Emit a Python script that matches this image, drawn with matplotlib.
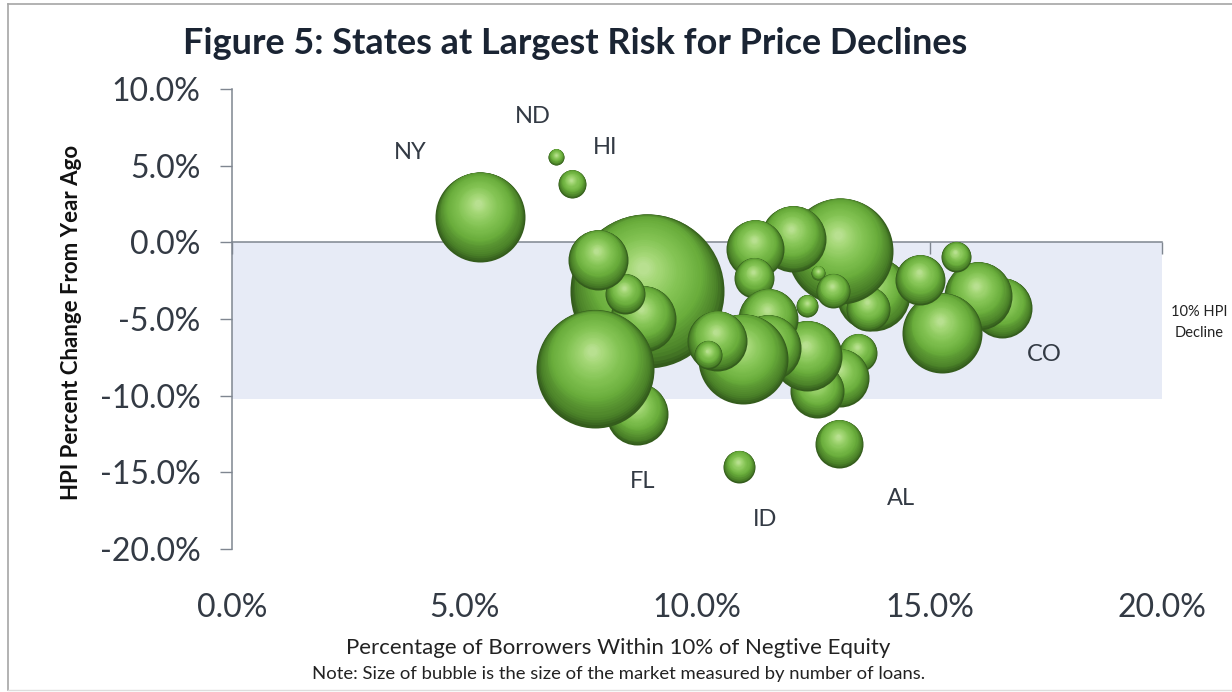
import matplotlib
matplotlib.use('Agg')
from matplotlib import pyplot as plt
from matplotlib.colors import LinearSegmentedColormap
from matplotlib.lines import Line2D
from matplotlib.transforms import offset_copy
import numpy as np

plt.rcParams['font.family'] = ['Lato', 'DejaVu Sans']

# bubbles, listed back to front
borrowers_pct = [5.33, 6.97, 7.31,
                 13.78, 13.68, 13.08, 12.60, 12.92, 12.06, 11.25, 11.23,
                 13.46, 13.08, 12.58, 12.37, 12.37, 11.53, 11.53, 10.99,
                 8.92, 10.43, 10.24, 8.84, 8.45, 7.87, 8.71, 7.81,
                 13.05, 10.90,
                 16.56, 16.04, 15.27, 14.80, 15.57]
hpi_change_pct = [1.66, 5.57, 3.81,
                  -3.36, -4.33, -0.55, -1.99, -3.16, 0.23, -0.42, -2.31,
                  -7.20, -8.83, -9.67, -7.39, -4.14, -4.98, -6.87, -7.59,
                  -3.16, -6.42, -7.33, -4.98, -3.36, -1.14, -11.17, -8.24,
                  -13.13, -14.63,
                  -4.27, -3.49, -5.90, -2.44, -0.94]
market_size = [2025, 64, 196,
               1369, 484, 2809, 49, 289, 1089, 841, 400,
               361, 841, 729, 1225, 121, 900, 1089, 2025,
               5929, 900, 196, 1089, 400, 900, 961, 3481,
               576, 256,
               900, 1156, 1600, 625, 225]

state_names = ['NY', 'ND', 'HI', 'CO', 'FL', 'ID', 'AL']
state_x = [3.83, 6.47, 8.02, 17.46, 8.84, 11.46, 14.39]
state_y = [5.83, 8.18, 6.16, -7.33, -15.6, -18.08, -16.71]

x_ticks = [0, 5, 10, 15, 20]
y_ticks = [-20, -15, -10, -5, 0, 5, 10]
band_bottom = -10.2

W, H = 1232, 692
fig = plt.figure(figsize=(W / 100, H / 100), dpi=100)
ax = fig.add_axes([232 / W, 1 - 549 / H, 930 / W, 460 / H])
ax.set_xlim(0, 20)
ax.set_ylim(-20, 10)
ax.patch.set_alpha(0)

ax.fill_between([0, 20], band_bottom, 0, color='#e7ebf6', lw=0, zorder=1)

# axes lines: x axis sits on zero, its labels stay at the bottom
for side in ['top', 'right']:
    ax.spines[side].set_visible(False)
ax.spines['bottom'].set_position('zero')
ax.spines['bottom'].set_color('#7f8690')
ax.spines['left'].set_color('#7f8690')
ax.spines['bottom'].set_linewidth(1.1)
ax.spines['left'].set_linewidth(1.1)
ax.spines['bottom'].set_zorder(2)
ax.spines['left'].set_zorder(2)
ax.set_xticks(x_ticks)
ax.set_yticks(y_ticks)
ax.set_xticklabels(['%.1f%%' % v for v in x_ticks])
ax.set_yticklabels(['%.1f%%' % v for v in y_ticks])
ax.tick_params(axis='x', length=8.5, width=1, color='#7f8690', pad=244,
               labelsize=23, labelcolor='#333a44')
ax.tick_params(axis='y', length=9, width=1, color='#7f8690', pad=13.5,
               labelsize=23, labelcolor='#333a44')

# sphere shading made of stacked discs, highlight pulled up and left
sphere = LinearSegmentedColormap.from_list('sphere', [
    (0.0, '#345c1c'), (0.08, '#4a8028'), (0.3, '#6aae3c'),
    (0.6, '#84c454'), (0.88, '#a6d878'), (1.0, '#b8e090')])
n_layers = 40
for i in range(len(market_size)):
    r_pt = np.sqrt(market_size[i]) * 0.72
    for k in range(n_layers):
        t = k / (n_layers - 1)
        up = np.interp(t, [0, 0.25, 1], [0, 0.2, 0.3])
        trans = offset_copy(ax.transData, fig=fig, x=-0.05 * r_pt * t,
                            y=up * r_pt, units='points')
        d = 2 * r_pt * (1 - 0.92 * t)
        ax.scatter([borrowers_pct[i]], [hpi_change_pct[i]], s=d ** 2,
                   color=sphere(t), linewidths=0, transform=trans,
                   zorder=3 + i + t * 0.9, clip_on=False)

for i in range(len(state_names)):
    ax.text(state_x[i], state_y[i], state_names[i], ha='center', va='center',
            fontsize=17, color='#333a44', zorder=50, clip_on=False)

fig.text(575 / W, 1 - 43 / H, 'Figure 5: States at Largest Risk for Price Declines',
         ha='center', va='center', fontsize=25.9, fontweight='bold', color='#1a2433')
fig.text(72 / W, 1 - 322 / H, 'HPI Percent Change From Year Ago', rotation=90,
         ha='center', va='center', fontsize=16, fontweight='bold', color='#111111')
fig.text(618 / W, 1 - 648 / H, 'Percentage of Borrowers Within 10% of Negtive Equity',
         ha='center', va='center', fontsize=16, color='#222222')
fig.text(619 / W, 1 - 674 / H, 'Note: Size of bubble is the size of the market measured by number of loans.',
         ha='center', va='center', fontsize=13.3, color='#222222')
fig.text(1199 / W, 1 - 312 / H, '10% HPI', ha='center', va='center', fontsize=10.5, color='#222222')
fig.text(1199 / W, 1 - 333 / H, 'Decline', ha='center', va='center', fontsize=10.5, color='#222222')

# chart frame: top and left show, bottom is faint, right is cut off
left, top, bottom = 8 / W, 1 - 4 / H, 1 - 690 / H
fig.add_artist(Line2D([left, left], [bottom, top], color='#a6a6a6', lw=1.2))
fig.add_artist(Line2D([left, 1], [top, top], color='#a6a6a6', lw=1.2))
fig.add_artist(Line2D([left, 1], [bottom, bottom], color='#dddddd', lw=1.0))

fig.savefig('out.png', dpi=100)
